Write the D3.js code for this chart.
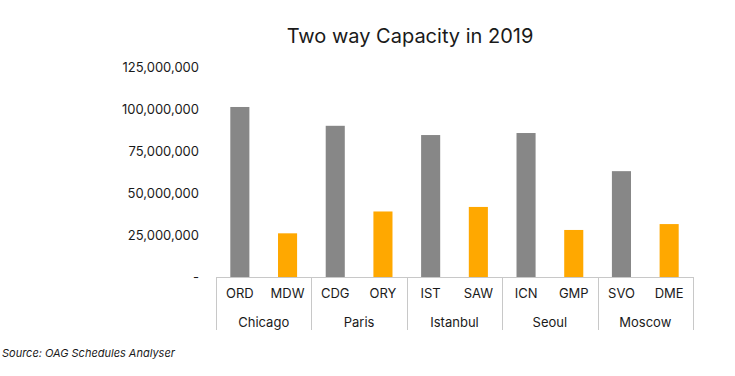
<!DOCTYPE html>
<html>
<head>
<meta charset="utf-8">
<script src="https://cdn.jsdelivr.net/npm/d3@7"></script>
<style>
  html, body { margin: 0; padding: 0; background: #fff; }
  svg { display: block; }
  text { font-family: Inter, "Noto Sans", sans-serif; fill: #1a1a1a; }
</style>
</head>
<body>
<svg id="chart" width="735" height="376"></svg>
<script>
const title = "Two way Capacity in 2019";
const source = "Source: OAG Schedules Analyser";
const cities = ["Chicago", "Paris", "Istanbul", "Seoul", "Moscow"];
const airports = ["ORD", "MDW", "CDG", "ORY", "IST", "SAW", "ICN", "GMP", "SVO", "DME"];
const airportCity = ["Chicago", "Chicago", "Paris", "Paris", "Istanbul", "Istanbul", "Seoul", "Seoul", "Moscow", "Moscow"];
const airportType = ["main", "second", "main", "second", "main", "second", "main", "second", "main", "second"];
const capacity = [101200000, 26000000, 90000000, 39000000, 84500000, 41700000, 85700000, 28000000, 63000000, 31500000];
const yTicks = [0, 25000000, 50000000, 75000000, 100000000, 125000000];

(function () {
const svg = d3.select("#chart");
const mLeft = 216, mRight = 693, mTop = 67, mBottom = 277;

const x = d3.scaleBand().domain(airports).range([mLeft, mRight]).paddingInner(0.6).paddingOuter(0.3);
const y = d3.scaleLinear().domain([0, 125000000]).range([mBottom, mTop]);
const color = d3.scaleOrdinal().domain(["main", "second"]).range(["#878787", "#FFA800"]);

// title
svg.append("text").attr("x", 410).attr("y", 43).attr("text-anchor", "middle")
  .style("font-size", "20px").text(title);

// y axis
const fmt = v => v === 0 ? "-" : d3.format(",")(v);
const yAxis = d3.axisLeft(y).tickValues(yTicks).tickFormat(fmt).tickSize(0).tickPadding(17);
const yg = svg.append("g").attr("transform", `translate(${mLeft},0)`).call(yAxis);
yg.select(".domain").remove();
yg.selectAll("text").style("font-size", "13px").style("font-family", "Inter, 'Noto Sans', sans-serif").attr("fill", "#1a1a1a");

// bars
svg.append("g").selectAll("rect").data(airports).join("rect")
  .attr("x", d => x(d))
  .attr("width", x.bandwidth())
  .attr("y", (d, i) => y(capacity[i]))
  .attr("height", (d, i) => y(0) - y(capacity[i]))
  .attr("fill", (d, i) => color(airportType[i]));

// x axis: category labels
const xAxis = d3.axisBottom(x).tickSize(0).tickPadding(12);
const xg = svg.append("g").attr("transform", `translate(0,${mBottom})`).call(xAxis);
xg.select(".domain").remove();
xg.selectAll("text").style("font-size", "13px").style("font-family", "Inter, 'Noto Sans', sans-serif").attr("fill", "#1a1a1a");

// baseline
svg.append("line").attr("x1", mLeft).attr("x2", mRight).attr("y1", mBottom + 0.5).attr("y2", mBottom + 0.5)
  .attr("stroke", "#c8c8c8").attr("stroke-width", 1);

// group separators and city labels
const groupWidth = (mRight - mLeft) / cities.length;
const seps = d3.range(cities.length + 1).map(i => mLeft + i * groupWidth);
svg.append("g").selectAll("line").data(seps).join("line")
  .attr("x1", d => Math.round(d) + 0.5).attr("x2", d => Math.round(d) + 0.5)
  .attr("y1", mBottom).attr("y2", 330)
  .attr("stroke", "#c8c8c8").attr("stroke-width", 1);

svg.append("g").selectAll("text").data(cities).join("text")
  .attr("x", (d, i) => mLeft + (i + 0.5) * groupWidth)
  .attr("y", 327)
  .attr("text-anchor", "middle")
  .style("font-size", "13px")
  .text(d => d);

// source
svg.append("text").attr("x", 2).attr("y", 357)
  .style("font-size", "11px").style("font-style", "italic").text(source);
})();
</script>
</body>
</html>
